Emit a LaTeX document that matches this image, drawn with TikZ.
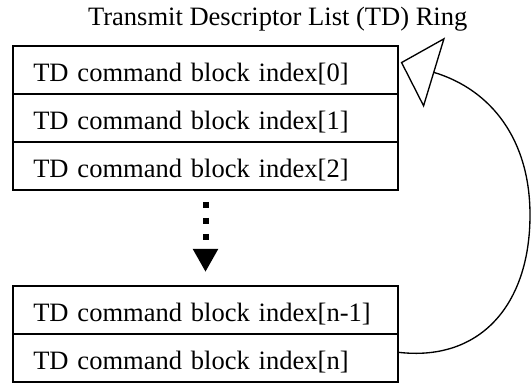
\documentclass[tikz,border=0pt]{standalone}
\usepackage{fontspec}
\setmainfont{Liberation Serif}
\usetikzlibrary{positioning,arrows.meta}

\tikzset{every picture/.style={line width=0.75pt}}
\tikzset{
  tdrow/.style={draw, line width=1.2pt, outer sep=0pt, inner ysep=0pt, inner xsep=15.2pt,
    minimum width=288.75pt, minimum height=36pt, text width=258.35pt, align=left,
    text height=17.2pt, text depth=0pt, font=\fontsize{19.9}{24}\selectfont},
  dotarrow/.style={line width=4.5pt, dash pattern=on 4.5pt off 7.5pt,
    -{Triangle[width=17.8pt,length=17.25pt]}, shorten <=9pt, shorten >=10.5pt},
  ringarrow/.style={line width=1pt, -{Triangle[open,length=26.4pt,width=54.8pt]}}
}

\begin{document}
\begin{tikzpicture}[x=0.75pt,y=0.75pt,yscale=-1,xscale=1]
\useasboundingbox (0,0) rectangle (532,384);

% Text Node
\node [anchor=base, inner sep=0pt, font=\fontsize{19.9}{24}\selectfont] (title) at (277.7,26) {Transmit Descriptor List (TD) Ring};

%Shape: Rectangle rows
\node [tdrow, anchor=north west] (r0) at (13,46) {TD command block index[0]};
\node [tdrow, below=0pt of r0] (r1) {TD command block index[1]};
\node [tdrow, below=0pt of r1] (r2) {TD command block index[2]};
\node [tdrow, anchor=north west] (rn1) at (13,286) {TD command block index[n-1]};
\node [tdrow, below=0pt of rn1] (rn) {TD command block index[n]};

%Straight Lines: dotted gap
\draw [dotarrow] (r2.south) -- (rn1.north);

%Curve Lines: ring back to start
\coordinate (ringtip) at (400.7,62.3);
\draw [ringarrow] ([yshift=-4.3pt]rn.east) .. controls (480,362) and (530,305) .. (530,215) .. controls (530,140) and (491.6,89.9) .. (ringtip);

\end{tikzpicture}
\end{document}
